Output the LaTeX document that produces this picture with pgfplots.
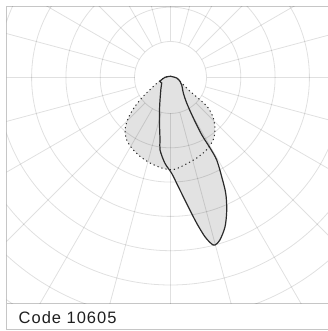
\documentclass[border=0pt]{standalone}
\usepackage{pgfplots}
\pgfplotsset{compat=1.18}
\usepackage{pgfplotstable}
\usepackage{fontspec}
\setmainfont{Liberation Sans}
\definecolor{framegray}{HTML}{C6C6C6}
\definecolor{fillgray}{HTML}{E2E2E2}
\definecolor{curvec}{HTML}{2B2B2B}

% polar data: a = angle in degrees from nadir (positive to the right), r = intensity (diagram units)
\pgfplotstableread{
a r
180 1.2
85.4 6.2
68.2 10.2
56.2 13.5
39.6 20.1
32.4 30.2
29.4 46.5
28.6 65.2
29.3 80.8
29.25 94.6
27.3 111.6
25.5 128.3
23.0 143.9
20.1 158.8
16.9 169.9
14.9 173.3
13.9 171.5
12.2 162.9
10.2 148.1
7.8 130.4
4.1 109.5
0.7 95.8
-3.7 86.0
-8.2 73.3
-9.5 63.4
-13.0 48.8
-18.7 34.3
-25.0 24.8
-42.1 14.2
-58.0 10.4
-70.1 11.2
-92.1 5.5
-180 1.2
}\planeA

\pgfplotstableread{
a r
68.2 10.2
60.6 14.7
54.7 23.9
53.0 36.9
51.1 48.6
46.6 58.9
40.4 68.6
34.5 75.5
26.6 80.8
18.0 84.7
9.4 88.4
1.7 92.2
-5.6 90.9
-13.5 87.9
-21.2 84.5
-28.8 80.5
-35.2 76.1
-41.1 69.2
-46.2 58.5
-50.9 45.7
-55.4 33.1
-60.8 21.5
-69.8 13.0
-92.1 5.5
-180 1.2
85.4 6.2
68.2 10.2
}\planeB

\begin{document}
\begin{tikzpicture}[x=1pt,y=1pt]
\path[use as bounding box] (0,0) rectangle (328,331);
\begin{axis}[
  at={(6.5,27)}, anchor=south west,
  scale only axis, width=323.5pt, height=297.5pt,
  xmin=-164, xmax=159.5, ymin=-226.5, ymax=71,
  ticks=none,
  axis line style={framegray, line width=1pt},
  clip=true,
]
% fills
\addplot[draw=none, fill=fillgray, smooth, tension=0.5] table[x expr={\thisrow{r}*sin(\thisrow{a})}, y expr={-\thisrow{r}*cos(\thisrow{a})}] {\planeB};
\addplot[draw=none, fill=fillgray, smooth, tension=0.5] table[x expr={\thisrow{r}*sin(\thisrow{a})}, y expr={-\thisrow{r}*cos(\thisrow{a})}] {\planeA};
% polar grid
\pgfplotsinvokeforeach{0,15,...,345}{
  \draw[black, draw opacity=0.12, line width=0.8pt] (axis cs:{36*sin(#1)},{-36*cos(#1)}) -- (axis cs:{420*sin(#1)},{-420*cos(#1)});
}
\pgfplotsinvokeforeach{36,70.3,104.6,138.9,173.2,207.5,241.8,276.1,310.4,344.7}{
  \draw[black, draw opacity=0.12, line width=0.8pt] (axis cs:0,0) circle[radius=#1];
}
% outlines
\addplot[curvec, line width=1pt, dash pattern=on 1.2pt off 3pt, smooth, tension=0.5] table[x expr={\thisrow{r}*sin(\thisrow{a})}, y expr={-\thisrow{r}*cos(\thisrow{a})}] {\planeB};
\addplot[curvec, line width=1.2pt, smooth, tension=0.5] table[x expr={\thisrow{r}*sin(\thisrow{a})}, y expr={-\thisrow{r}*cos(\thisrow{a})}] {\planeA};
\end{axis}
\draw[framegray, line width=1pt] (6.5,27) -- (6.5,1) -- (340,1);
\node[anchor=base west, inner sep=0pt, text=black!88, font=\fontsize{16.5}{19}\selectfont\addfontfeature{LetterSpace=6}] at (18.5,7.7) {Code 10605};
\end{tikzpicture}
\end{document}
